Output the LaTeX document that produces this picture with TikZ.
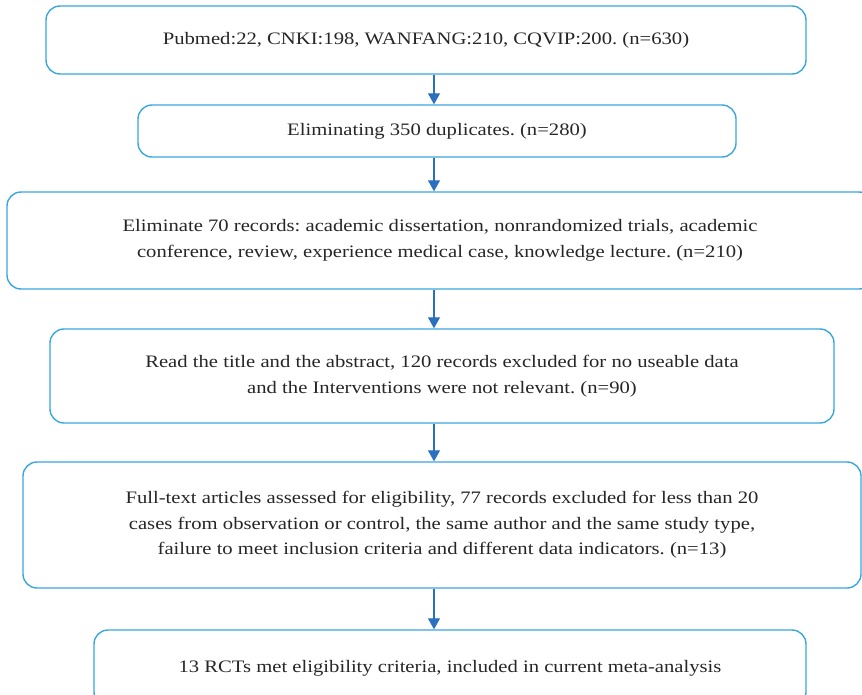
\documentclass[tikz,border=0pt]{standalone}
\usepackage{fontspec}
\setmainfont[FakeStretch=1.18]{Liberation Serif}
\frenchspacing
\usetikzlibrary{shapes,arrows.meta,calc}
\definecolor{boxblue}{HTML}{3AA6DE}
\definecolor{arrblue}{HTML}{2B70BE}
\tikzstyle{stage} = [rectangle, draw=boxblue, line width=1.4pt, rounded corners=14pt, align=center, text=black!85, font=\fontsize{17.5}{25.5}\selectfont, inner sep=0pt]
\tikzstyle{flow}  = [draw=arrblue, line width=1.2pt, -{Triangle[length=11pt,width=12pt]}]

\begin{document}
\begin{tikzpicture}[x=1pt, y=-1pt]

    \useasboundingbox (0,0) rectangle (862,695);
    \coordinate (ax) at (434,0);

    \node[stage, minimum width=760pt, minimum height=68pt] (search) at (426,40)
        {Pubmed:22, CNKI:198, WANFANG:210, CQVIP:200. (n=630)};
    \node[stage, minimum width=598pt, minimum height=52pt] (dup) at (437,131)
        {Eliminating 350 duplicates. (n=280)};
    \node[stage, minimum width=866pt, minimum height=97pt] (type) at (440,240.5)
        {Eliminate 70 records: academic dissertation, nonrandomized trials, academic\\
         conference, review, experience medical case, knowledge lecture. (n=210)};
    \node[stage, minimum width=784pt, minimum height=94pt] (abstr) at (442,376)
        {Read the title and the abstract, 120 records excluded for no useable data\\
         and the Interventions were not relevant. (n=90)};
    \node[stage, minimum width=838pt, minimum height=126pt] (full) at (442,525)
        {Full-text articles assessed for eligibility, 77 records excluded for less than 20\\
         cases from observation or control, the same author and the same study type,\\
         failure to meet inclusion criteria and different data indicators. (n=13)};
    \node[stage, minimum width=712pt, minimum height=76pt] (final) at (450,668)
        {13 RCTs met eligibility criteria, included in current meta-analysis};

    \draw[flow] (search.south -| ax) -- (dup.north -| ax);
    \draw[flow] (dup.south -| ax)    -- (type.north -| ax);
    \draw[flow] (type.south -| ax)   -- (abstr.north -| ax);
    \draw[flow] (abstr.south -| ax)  -- (full.north -| ax);
    \draw[flow] (full.south -| ax)   -- (final.north -| ax);

\end{tikzpicture}
\end{document}
